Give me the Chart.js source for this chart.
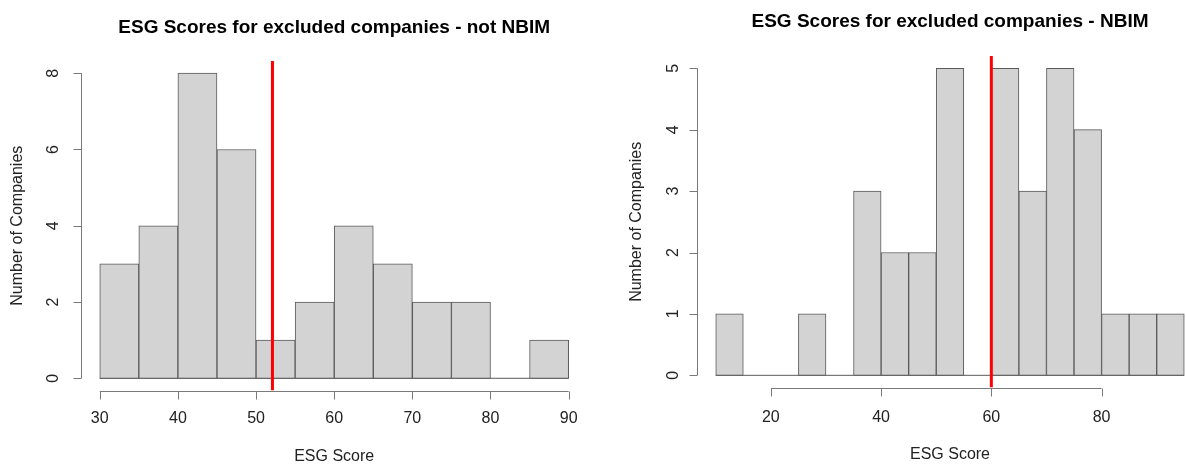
<!DOCTYPE html>
<html>
<head>
<meta charset="utf-8">
<script src="https://cdn.jsdelivr.net/npm/chart.js@4.4.1/dist/chart.umd.min.js"></script>
<style>
    html, body { margin: 0; padding: 0; background: #fff; overflow: hidden; width: 1186px; height: 465px; }
    canvas { position: absolute; top: 0; }
    #leftChart { left: 0; }
    #rightChart { left: 600px; }
</style>
</head>
<body>
<canvas id="leftChart" width="600" height="465"></canvas>
<canvas id="rightChart" width="620" height="465"></canvas>
<script>
// histogram bins (break points) and counts
const leftBreaks = [30, 35, 40, 45, 50, 55, 60, 65, 70, 75, 80, 85, 90];
const leftCounts = [3, 4, 8, 6, 1, 2, 4, 3, 2, 2, 0, 1];
const leftMean = 52.1;
const leftXTicks = [30, 40, 50, 60, 70, 80, 90];
const leftYTicks = [0, 2, 4, 6, 8];

const rightBreaks = [10, 15, 20, 25, 30, 35, 40, 45, 50, 55, 60, 65, 70, 75, 80, 85, 90, 95];
const rightCounts = [1, 0, 0, 1, 0, 3, 2, 2, 5, 0, 5, 3, 5, 4, 1, 1, 1];
const rightMean = 60;
const rightXTicks = [20, 40, 60, 80];
const rightYTicks = [0, 1, 2, 3, 4, 5];

const FONT = '"Liberation Sans", Arial, Helvetica, sans-serif';

// R-style axes, titles and labels drawn on top of the plot region
const rAxes = {
    id: 'rAxes',
    afterDraw(chart, args, opts) {
        const c = chart.ctx;
        const xs = chart.scales.x, ys = chart.scales.y;
        const area = chart.chartArea;
        c.save();
        c.strokeStyle = '#7a7a7a';
        c.lineWidth = 1;
        c.fillStyle = '#222';

        // x axis
        const yAx = Math.round(area.bottom) + 0.5;
        const x0 = xs.getPixelForValue(opts.xTicks[0]);
        const x1 = xs.getPixelForValue(opts.xTicks[opts.xTicks.length - 1]);
        c.beginPath();
        c.moveTo(x0, yAx); c.lineTo(x1, yAx);
        opts.xTicks.forEach(t => {
            const px = Math.round(xs.getPixelForValue(t)) + 0.5;
            c.moveTo(px, yAx); c.lineTo(px, yAx + 8);
        });
        c.stroke();
        c.font = '16px ' + FONT;
        c.textAlign = 'center';
        c.textBaseline = 'middle';
        opts.xTicks.forEach(t => c.fillText(String(t), xs.getPixelForValue(t), yAx + opts.xLabelGap));

        // y axis
        const xAx = Math.round(area.left) + 0.5;
        const y0 = ys.getPixelForValue(opts.yTicks[0]);
        const y1 = ys.getPixelForValue(opts.yTicks[opts.yTicks.length - 1]);
        c.beginPath();
        c.moveTo(xAx, y0); c.lineTo(xAx, y1);
        opts.yTicks.forEach(t => {
            const py = Math.round(ys.getPixelForValue(t)) + 0.5;
            c.moveTo(xAx, py); c.lineTo(xAx - 8, py);
        });
        c.stroke();
        opts.yTicks.forEach(t => {
            c.save();
            c.translate(xAx - opts.yLabelGap, ys.getPixelForValue(t));
            c.rotate(-Math.PI / 2);
            c.fillText(String(t), 0, 0);
            c.restore();
        });

        // axis titles
        const midX = (area.left + area.right) / 2;
        const midY = (area.top + area.bottom) / 2;
        c.fillText('ESG Score', midX, opts.xTitleY);
        c.save();
        c.translate(opts.yTitleX, midY);
        c.rotate(-Math.PI / 2);
        c.fillText('Number of Companies', 0, 0);
        c.restore();

        // main title
        c.fillStyle = '#000';
        c.font = 'bold 19px ' + FONT;
        c.fillText(opts.title, midX, opts.titleY);
        c.restore();
    }
};

function makeHist(canvasId, breaks, counts, mean, xRange, yRange, padding, axisOpts) {
    const bars = counts.map((n, i) => ({ x: (breaks[i] + breaks[i + 1]) / 2, y: n }));
    const first = breaks[0], last = breaks[breaks.length - 1];
    return new Chart(document.getElementById(canvasId), {
        type: 'bar',
        data: {
            datasets: [{
                type: 'line',
                data: [{ x: first, y: 0 }, { x: last, y: 0 }],
                borderColor: '#5a5a5a',
                borderWidth: 1,
                pointRadius: 0,
                order: 2
            }, {
                data: bars,
                backgroundColor: '#d3d3d3',
                borderColor: '#5a5a5a',
                borderWidth: 1,
                borderSkipped: false,
                barPercentage: 1,
                categoryPercentage: 1,
                order: 1
            }, {
                type: 'line',
                data: [{ x: mean, y: yRange[0] }, { x: mean, y: yRange[1] }],
                borderColor: '#ff0000',
                borderWidth: 3,
                pointRadius: 0,
                order: 0
            }]
        },
        options: {
            responsive: false,
            animation: false,
            events: [],
            layout: { padding: padding },
            plugins: {
                legend: { display: false },
                tooltip: { enabled: false },
                rAxes: axisOpts
            },
            scales: {
                x: { type: 'linear', display: false, min: xRange[0], max: xRange[1], offset: false },
                y: { type: 'linear', display: false, min: yRange[0], max: yRange[1] }
            }
        },
        plugins: [rAxes]
    });
}

makeHist('leftChart', leftBreaks, leftCounts, leftMean,
    [27.6, 92.4], [-0.32, 8.32],
    { left: 81, right: 12.6, top: 61, bottom: 74.5 },
    {
        title: 'ESG Scores for excluded companies - not NBIM', titleY: 28,
        xTicks: leftXTicks, yTicks: leftYTicks,
        xLabelGap: 27, yLabelGap: 28, xTitleY: 457, yTitleX: 18
    });

makeHist('rightChart', rightBreaks, rightCounts, rightMean,
    [6.6, 98.4], [-0.2, 5.2],
    { left: 97, right: 17, top: 56, bottom: 77.4 },
    {
        title: 'ESG Scores for excluded companies - NBIM', titleY: 22,
        xTicks: rightXTicks, yTicks: rightYTicks,
        xLabelGap: 29, yLabelGap: 24, xTitleY: 455, yTitleX: 37
    });
</script>
</body>
</html>
